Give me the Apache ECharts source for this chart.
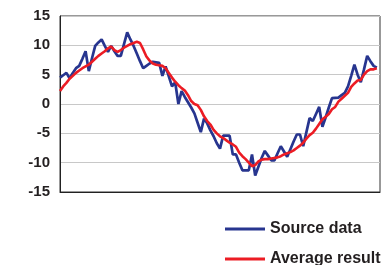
<!DOCTYPE html>
<html>
<head>
<meta charset="utf-8">
<script src="https://cdn.jsdelivr.net/npm/echarts@6/dist/echarts.min.js"></script>
<style>
  html, body { margin: 0; padding: 0; background: #fff; }
  #chart { width: 382px; height: 265px; }
</style>
</head>
<body>
<div id="chart"></div>
<script>
// values, one per sample (100 samples)
const sourceData = [
  4.5, 4.9, 5.3, 4.4, 5.3, 6.1, 6.5, 7.7, 9.0, 5.6,
  7.8, 9.9, 10.5, 11.0, 9.9, 8.9, 9.9, 9.0, 8.2, 8.2,
  10.2, 12.2, 11.0, 9.9, 8.6, 7.3, 6.1, 6.5, 6.9, 7.2,
  7.1, 7.0, 4.8, 6.4, 4.7, 3.0, 3.7, 0.0, 2.2, 1.2,
  0.3, -0.6, -1.6, -3.2, -4.8, -2.5, -3.3, -4.5, -5.5, -6.7,
  -7.6, -5.4, -5.4, -5.4, -8.6, -8.6, -10.0, -11.3, -11.3, -11.3,
  -8.6, -12.2, -10.7, -9.2, -8.0, -8.8, -9.6, -9.6, -8.4, -7.2,
  -8.1, -9.0, -7.7, -6.4, -5.2, -5.2, -7.2, -4.8, -2.4, -2.9,
  -1.7, -0.5, -3.9, -2.3, -0.6, 1.0, 1.05, 1.1, 1.5, 1.9,
  3.0, 4.8, 6.7, 5.0, 3.7, 5.9, 8.2, 7.3, 6.5, 6.2
];
const averageResult = [
  2.2, 3.0, 3.6, 4.3, 4.8, 5.3, 5.7, 6.1, 6.4, 6.7,
  7.2, 7.7, 8.2, 8.6, 9.0, 9.5, 9.8, 9.2, 8.9, 9.2,
  9.6, 9.9, 10.2, 10.4, 10.6, 10.4, 9.3, 8.1, 7.4, 6.9,
  6.7, 6.6, 6.5, 6.1, 5.3, 4.5, 3.8, 3.2, 2.7, 2.3,
  1.5, 0.5, 0.0, -0.2, -1.0, -2.1, -2.9, -3.5, -4.4, -5.0,
  -5.5, -5.8, -6.2, -6.6, -6.9, -7.3, -8.3, -8.9, -9.4, -10.0,
  -10.6, -10.4, -9.8, -9.5, -9.4, -9.4, -9.3, -9.2, -9.1, -8.9,
  -8.6, -8.4, -8.2, -7.9, -7.5, -7.1, -6.6, -5.9, -5.3, -4.9,
  -4.2, -3.4, -2.6, -2.2, -1.7, -0.9, -0.5, 0.4, 0.9, 1.4,
  1.9, 2.9, 3.5, 4.0, 4.1, 5.0, 5.6, 5.9, 5.9, 6.1
];
const seriesNames = ['Source data', 'Average result'];
const seriesColors = ['#27358f', '#ec1c24'];
const yTicks = [-15, -10, -5, 0, 5, 10, 15];

const toPairs = arr => arr.map((v, i) => [i, v]);

// one legend box per entry, stacked at the lower right
const legendBox = (name, top) => ({
    orient: 'vertical',
    left: 225, top: top, padding: 0,
    icon: 'rect', itemWidth: 40, itemHeight: 3,
    textStyle: { fontSize: 16, fontWeight: 'bold', color: '#231f20' },
    data: [name]
});

let myChart = echarts.init(document.getElementById('chart'), null, { renderer: 'canvas' });
let option = {
    animation: false,
    textStyle: { fontFamily: 'Liberation Sans, Arial, sans-serif' },
    grid: {
        left: 60, right: 2, top: 16, bottom: 73,
        show: true, borderColor: '#333', borderWidth: 1
    },
    legend: [legendBox(seriesNames[0], 221), legendBox(seriesNames[1], 251)],
    xAxis: {
        type: 'value', min: 0, max: 100,
        axisLine: { show: true, onZero: false, lineStyle: { color: '#222', width: 1 } },
        axisTick: { show: false },
        axisLabel: { show: false },
        splitLine: { show: false }
    },
    yAxis: {
        type: 'value',
        min: yTicks[0], max: yTicks[yTicks.length - 1], interval: 5,
        axisLine: { show: true, lineStyle: { color: '#222', width: 1 } },
        axisTick: { show: false },
        axisLabel: { fontSize: 15, fontWeight: 'bold', color: '#231f20', margin: 10 },
        splitLine: { lineStyle: { color: '#c8c8c8', width: 1 } }
    },
    series: [
        {
            name: seriesNames[0], type: 'line', data: toPairs(sourceData),
            symbol: 'none', color: seriesColors[0],
            lineStyle: { width: 2.7, color: seriesColors[0] }, z: 2
        },
        {
            name: seriesNames[1], type: 'line', data: toPairs(averageResult),
            symbol: 'none', color: seriesColors[1],
            lineStyle: { width: 2.6, color: seriesColors[1] }, z: 3
        }
    ]
};
myChart.setOption(option);
</script>
</body>
</html>
